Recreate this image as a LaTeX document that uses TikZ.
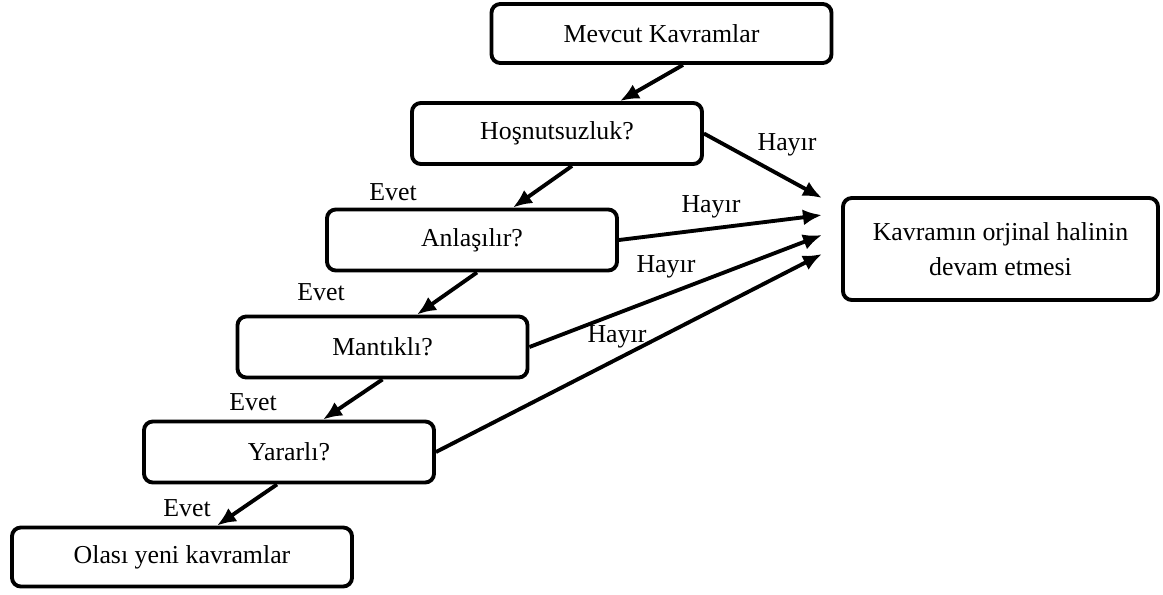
\documentclass[tikz,border=0pt]{standalone}
\usepackage{fontspec}
\setmainfont{Liberation Serif}
\usetikzlibrary{arrows.meta}

\begin{document}
\begin{tikzpicture}[
  font=\fontsize{14.7}{19.9}\selectfont,
  >={Latex[length=3.8mm,width=3.2mm]},
  soru/.style={draw, line width=2.2pt, rounded corners=5pt, fill=white,
               align=center, inner sep=0pt, minimum width=5.8cm, minimum height=1.22cm},
  uc/.style={soru, minimum width=6.8cm, minimum height=1.18cm},
  sonuc/.style={soru, minimum width=6.3cm, minimum height=2.04cm},
  flow/.style={->, line width=2.2pt},
  lbl/.style={inner sep=1pt}
]
\useasboundingbox (0,0) rectangle (23.26,-11.88);
\node[uc]    (m)  at (13.23,-0.67)  {Mevcut Kavramlar};
\node[soru]  (h)  at (11.14,-2.67)  {Hoşnutsuzluk?};
\node[soru]  (a)  at (9.44,-4.80)   {Anlaşılır?};
\node[soru]  (mt) at (7.65,-6.94)   {Mantıklı?};
\node[soru]  (y)  at (5.78,-9.04)   {Yararlı?};
\node[uc]    (o)  at (3.64,-11.14)  {Olası yeni kavramlar};
\node[sonuc] (k)  at (20.01,-4.98)  {Kavramın orjinal halinin\\devam etmesi};
% arrow ends in front of k
\coordinate (t1) at (16.44,-3.96);
\coordinate (t2) at (16.44,-4.30);
\coordinate (t3) at (16.44,-4.70);
\coordinate (t4) at (16.44,-5.08);
% evet chain
\draw[flow] ([xshift=0.43cm]m.south) -- ([xshift=1.26cm]h.north);
\draw[flow] ([xshift=0.30cm]h.south) -- ([xshift=0.82cm]a.north);
\draw[flow] ([xshift=0.10cm]a.south) -- ([xshift=0.69cm]mt.north);
\draw[flow] (mt.south) -- ([xshift=0.68cm]y.north);
\draw[flow] ([xshift=-0.24cm]y.south) -- ([xshift=0.70cm]o.north);
% hayir
\draw[flow] (h.east) -- (t1);
\draw[flow] (a.east) -- (t2);
\draw[flow] (mt.east) -- (t3);
\draw[flow] (y.east) -- (t4);
\node[lbl] (e1) at (7.86,-3.84)  {Evet};
\node[lbl] (e2) at (6.42,-5.84)  {Evet};
\node[lbl] (e3) at (5.06,-8.04)  {Evet};
\node[lbl] (e4) at (3.74,-10.16) {Evet};
\node[lbl] (n1) at (15.74,-2.90) {Hayır};
\node[lbl] (n2) at (14.22,-4.14) {Hayır};
\node[lbl] (n3) at (13.32,-5.34) {Hayır};
\node[lbl] (n4) at (12.34,-6.74) {Hayır};
\end{tikzpicture}
\end{document}
